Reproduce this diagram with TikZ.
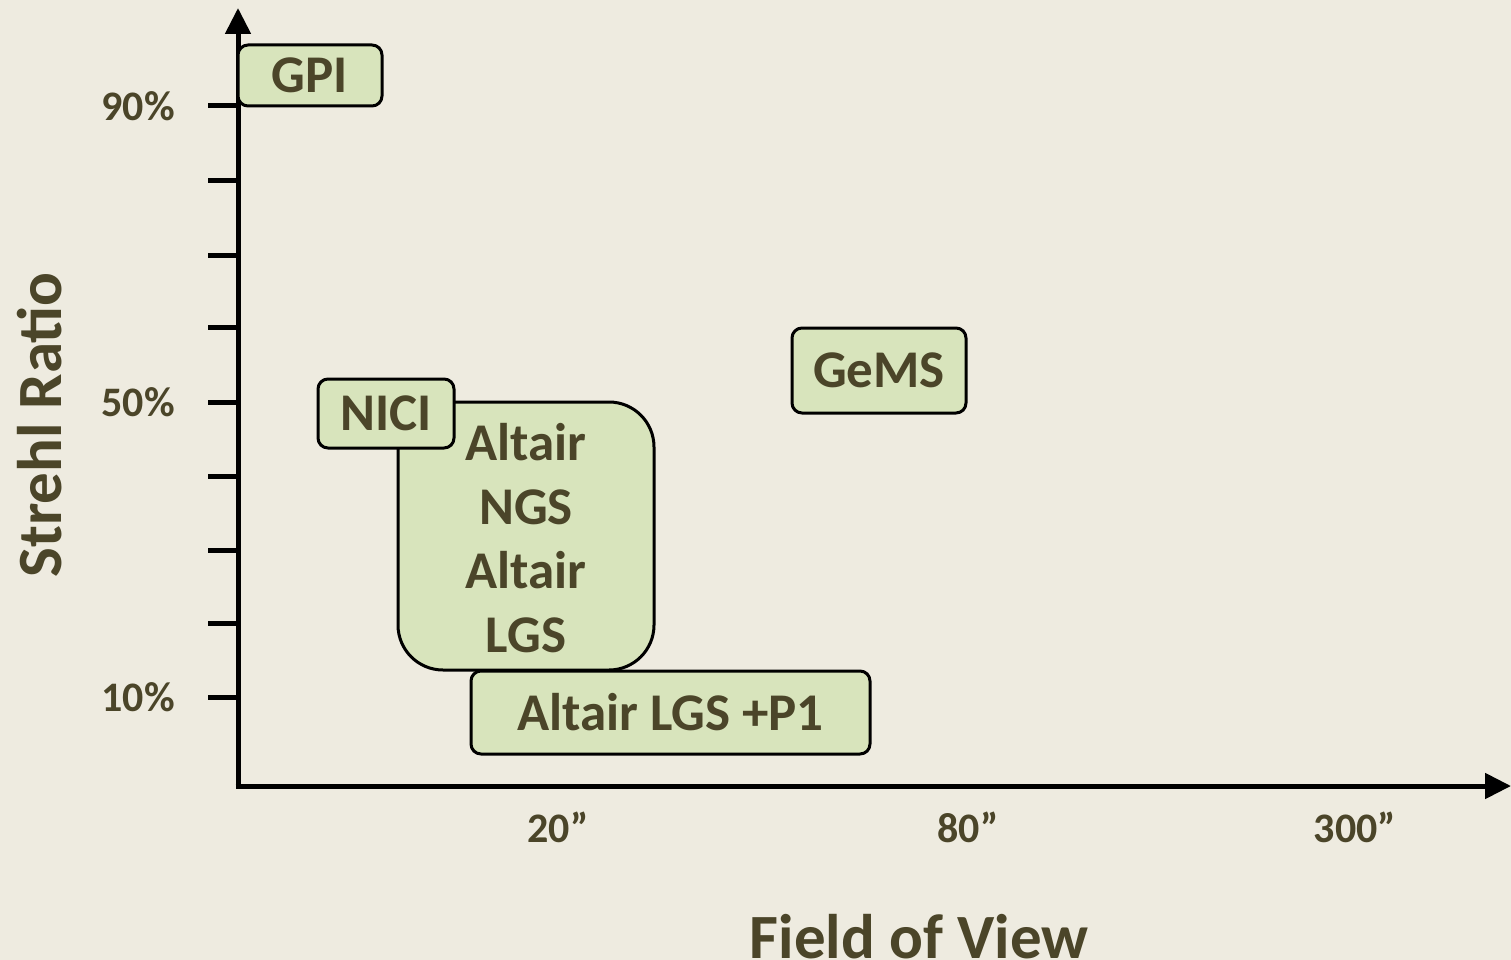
\documentclass[tikz,border=0pt]{standalone}
\usepackage{fontspec}
\setmainfont{Carlito}
\usetikzlibrary{arrows.meta}
\definecolor{bg}{HTML}{EEEBE0}
\definecolor{boxfill}{HTML}{D8E4BC}
\definecolor{txt}{HTML}{4B4529}
\tikzset{
  box/.style={draw=black, line width=3pt, fill=boxfill, rounded corners=10pt, inner sep=0pt,
    text=txt, font=\fontsize{53}{64}\selectfont\bfseries, align=center},
  axis/.style={line width=5pt, -{Triangle[length=26pt,width=25pt]}},
  tick/.style={line width=5pt},
  ticklab/.style={text=txt, font=\fontsize{42}{48}\selectfont\bfseries, inner sep=0pt},
  title/.style={text=txt, font=\fontsize{63}{70}\selectfont\bfseries, inner sep=0pt}
}
\begin{document}
\begin{tikzpicture}[x=1pt,y=-1pt]
\fill[bg] (0,0) rectangle (1511,960);
\useasboundingbox (0,0) rectangle (1511,960);
\coordinate (O) at (238,786);
\coordinate (ytop) at (238,8);
\coordinate (xend) at (1511,786);
\draw[axis] (238,788.5) -- (ytop);
\draw[axis] (235.5,786) -- (xend);
\foreach \y in {106,181,255,327,402,476,550,623,697}
  \draw[tick] (208,\y) -- (238,\y);
\node[ticklab, anchor=east] (l90) at (175,106) {90\%};
\node[ticklab, anchor=east] (l50) at (175,402) {50\%};
\node[ticklab, anchor=east] (l10) at (175,697) {10\%};
\node[ticklab] (x20) at (558,827) {20”};
\node[ticklab] (x80) at (968,827) {80”};
\node[ticklab] (x300) at (1355,827) {300”};
\node[title] (xt) at (919,937) {Field of View};
\node[title, rotate=90] (yt) at (40,425) {Strehl Ratio};
% boxes
\node[box, minimum width=144pt, minimum height=61pt] (gpi) at (310,75.5) {GPI};
\node[box, rounded corners=45pt, minimum width=256pt, minimum height=268pt] (alt) at (526,536) {};
\node[text=txt, font=\fontsize{53}{64}\selectfont\bfseries, align=center, inner sep=0pt] (altt) at (526,538) {Altair\\NGS\\Altair\\LGS};
\node[box, minimum width=136pt, minimum height=69pt] (nici) at (386,413.5) {NICI};
\node[box, minimum width=399pt, minimum height=83pt] (p1) at (670.5,712.5) {Altair LGS +P1};
\node[box, minimum width=174pt, minimum height=85pt] (gems) at (879,370.5) {GeMS};
\end{tikzpicture}
\end{document}
